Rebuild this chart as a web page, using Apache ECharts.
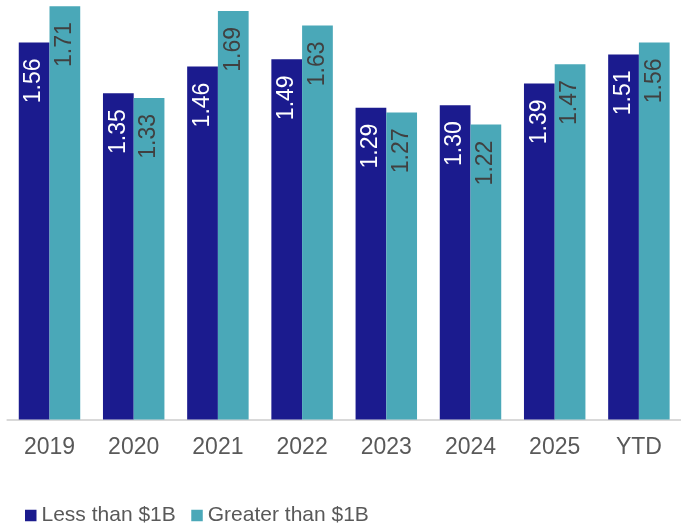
<!DOCTYPE html>
<html><head><meta charset="utf-8">
<script src="https://cdn.jsdelivr.net/npm/echarts@6/dist/echarts.min.js"></script>
<style>html,body{margin:0;padding:0;background:#fff}#c{width:681px;height:527px}</style>
</head><body><div id="c"></div>
<script>
const categories = ['2019','2020','2021','2022','2023','2024','2025','YTD'];
const lessThan1B = [1.56,1.35,1.46,1.49,1.29,1.30,1.39,1.51];
const greaterThan1B = [1.71,1.33,1.69,1.63,1.27,1.22,1.47,1.56];
const seriesNames = ['Less than $1B','Greater than $1B'];

const chart = echarts.init(document.getElementById('c'));
const font = '"Liberation Sans", Arial, sans-serif';
function lbl(color){
  return {show:true, position:'insideTop', rotate:90, align:'right', verticalAlign:'middle',
    distance:16, color:color, fontSize:23, fontFamily:font,
    formatter:p=>p.value.toFixed(2)};
}
chart.setOption({
  animation:false,
  grid:{left:7.4, right:-8.6, top:0, bottom:107.5, containLabel:false},
  legend:{left:20, top:500, itemWidth:11.5, itemHeight:11.5, itemGap:15.5, icon:'rect',
    textStyle:{color:'#595959', fontSize:21, fontFamily:font},
    data:seriesNames},
  xAxis:{type:'category', data:categories,
    axisLine:{lineStyle:{color:'#d9d9d9', width:2}}, axisTick:{show:false},
    axisLabel:{color:'#595959', fontSize:23, fontFamily:font, margin:17}},
  yAxis:{type:'value', min:0, max:1.7356, show:false, splitLine:{show:false}},
  series:[
    {name:seriesNames[0], type:'bar', data:lessThan1B, barGap:'0%', barCategoryGap:'27%',
      itemStyle:{color:'#1b1b8e'}, label:lbl('#ffffff')},
    {name:seriesNames[1], type:'bar', data:greaterThan1B,
      itemStyle:{color:'#4aa8b8'}, label:lbl('#404040')}
  ]
});
</script></body></html>
